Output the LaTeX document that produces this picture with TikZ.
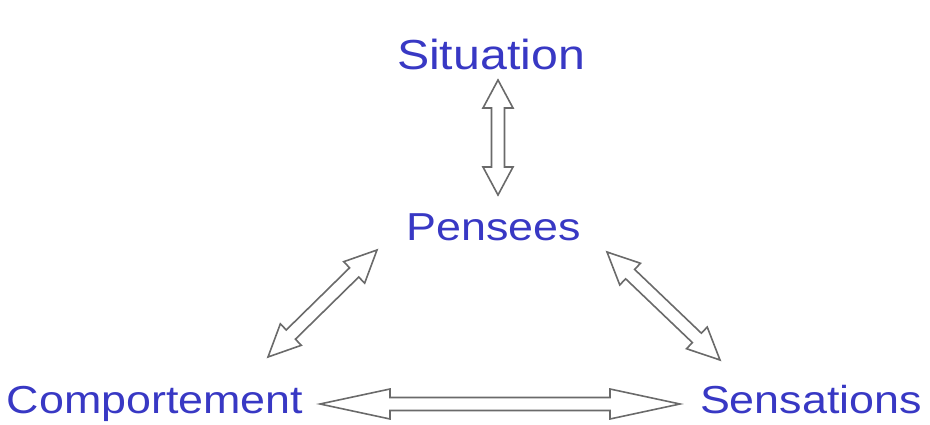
\documentclass[tikz,border=0pt]{standalone}
\usepackage{fontspec}
\setmainfont{Liberation Sans}
\usepackage{tikz}
\usetikzlibrary{calc}
\usepackage{xcolor}
\definecolor{Label}{HTML}{3838C4}
\definecolor{Frame}{HTML}{6A6A6A}

\begin{document}
\begin{tikzpicture}[x=1pt, y=1pt,
    term/.style={anchor=base, inner sep=0pt, text=Label, xscale=1.15, transform shape, font=\fontsize{39}{42}\selectfont},
    link/.style={draw=Frame, line width=1.6pt, fill=white, line join=miter, to path={
        -- ($(\tikztostart)!#1!(\tikztotarget)!15pt!90:(\tikztotarget)$)
        -- ($(\tikztostart)!#1!(\tikztotarget)!6.5pt!90:(\tikztotarget)$)
        -- ($(\tikztotarget)!#1!(\tikztostart)!6.5pt!-90:(\tikztostart)$)
        -- ($(\tikztotarget)!#1!(\tikztostart)!15pt!-90:(\tikztostart)$)
        -- (\tikztotarget)
        -- ($(\tikztotarget)!#1!(\tikztostart)!15pt!90:(\tikztostart)$)
        -- ($(\tikztotarget)!#1!(\tikztostart)!6.5pt!90:(\tikztostart)$)
        -- ($(\tikztostart)!#1!(\tikztotarget)!6.5pt!-90:(\tikztotarget)$)
        -- ($(\tikztostart)!#1!(\tikztotarget)!15pt!-90:(\tikztotarget)$)
        -- cycle}},
    link/.default=28pt
]
\useasboundingbox (0,0) rectangle (930,424);

% Terms
\node[term, font=\fontsize{42}{45}\selectfont] (sit) at (491, 354) {Situation};
\node[term] (pen) at (494, 184) {Pensees};
\node[term] (comp) at (155, 11) {Comportement};
\node[term] (sens) at (811, 11) {Sensations};

% Links
\draw[link] ([xshift=7pt, yshift=-10pt]sit.base) to ([xshift=4pt, yshift=45pt]pen.base);
\draw[link=32pt] ([xshift=113pt, yshift=56pt]comp.base) to ([xshift=-117pt, yshift=-10pt]pen.base);
\draw[link=32pt] ([xshift=113pt, yshift=-12pt]pen.base) to ([xshift=-91pt, yshift=53pt]sens.base);
\draw[link=70pt] ([xshift=165pt, yshift=9pt]comp.base) to ([xshift=-131pt, yshift=9pt]sens.base);

\end{tikzpicture}
\end{document}
